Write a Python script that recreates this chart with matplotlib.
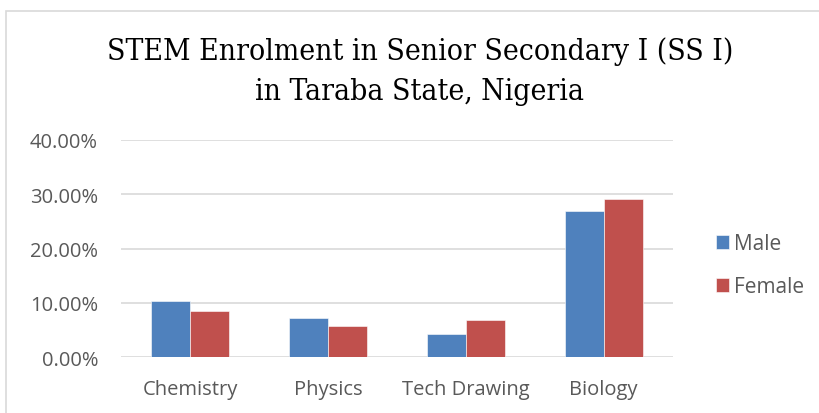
import matplotlib
matplotlib.use("Agg")
import matplotlib.pyplot as plt
import numpy as np
from matplotlib.ticker import FuncFormatter
from matplotlib.patches import Rectangle

categories = ["Chemistry", "Physics", "Tech Drawing", "Biology"]
male = [10.3, 7.2, 4.35, 26.9]
female = [8.6, 5.8, 6.8, 29.15]
series_names = ["Male", "Female"]
colors = ["#4F81BD", "#C0504D"]

W, H = 819, 414
fig = plt.figure(figsize=(W/100, H/100), dpi=100)
fig.patch.set_facecolor("white")

# chart frame (partially visible)
fig.add_artist(Rectangle((6/W, -0.05), 1.2, 1 - 12/H + 0.05, transform=fig.transFigure,
                         fill=False, edgecolor="#D9D9D9", linewidth=1.2))

left, right = 121/W, 672.7/W
top, bottom = 1 - 141/H, 1 - 358.3/H
ax = fig.add_axes([left, bottom, right-left, top-bottom])

x = np.arange(len(categories))
bw = 0.283
ax.bar(x - bw/2, male, bw, color=colors[0], label=series_names[0], zorder=3,
       edgecolor="white", linewidth=0.4)
ax.bar(x + bw/2, female, bw, color=colors[1], label=series_names[1], zorder=3,
       edgecolor="white", linewidth=0.4)

ax.set_xlim(-0.5, len(categories) - 0.5)
ax.set_ylim(0, 40)
ax.set_yticks([0, 10, 20, 30, 40])
ax.yaxis.set_major_formatter(FuncFormatter(lambda v, p: f"{v:.2f}%"))
ax.grid(axis="y", color="#D9D9D9", linewidth=1.2, zorder=0)
for s in ax.spines.values():
    s.set_visible(False)
ax.tick_params(axis="both", length=0, labelsize=14.5, colors="#595959", labelcolor="#595959")
ax.tick_params(axis="y", pad=16.5)
ax.tick_params(axis="x", pad=15.5)
ax.set_xticks(x)
ax.set_xticklabels(categories)
for lab in ax.get_xticklabels() + ax.get_yticklabels():
    lab.set_fontfamily("Open Sans")

title_kw = dict(ha="center", va="center", fontsize=21.5, family="DejaVu Serif",
                fontstretch="condensed", color="#000000")
fig.text(420/W, 1 - 52/H, "STEM Enrolment in Senior Secondary I (SS I)", **title_kw)
fig.text(420/W, 1 - 92/H, "in Taraba State, Nigeria", **title_kw)

leg = ax.legend(loc="center left", bbox_to_anchor=(697/W, 1 - 266/H), bbox_transform=fig.transFigure,
                frameon=False, handlelength=0.65, handleheight=0.65, handletextpad=0.25,
                labelspacing=1.05, prop={"family": "Open Sans", "size": 15})
for t in leg.get_texts():
    t.set_color("#595959")

fig.savefig("out.png", dpi=100)
